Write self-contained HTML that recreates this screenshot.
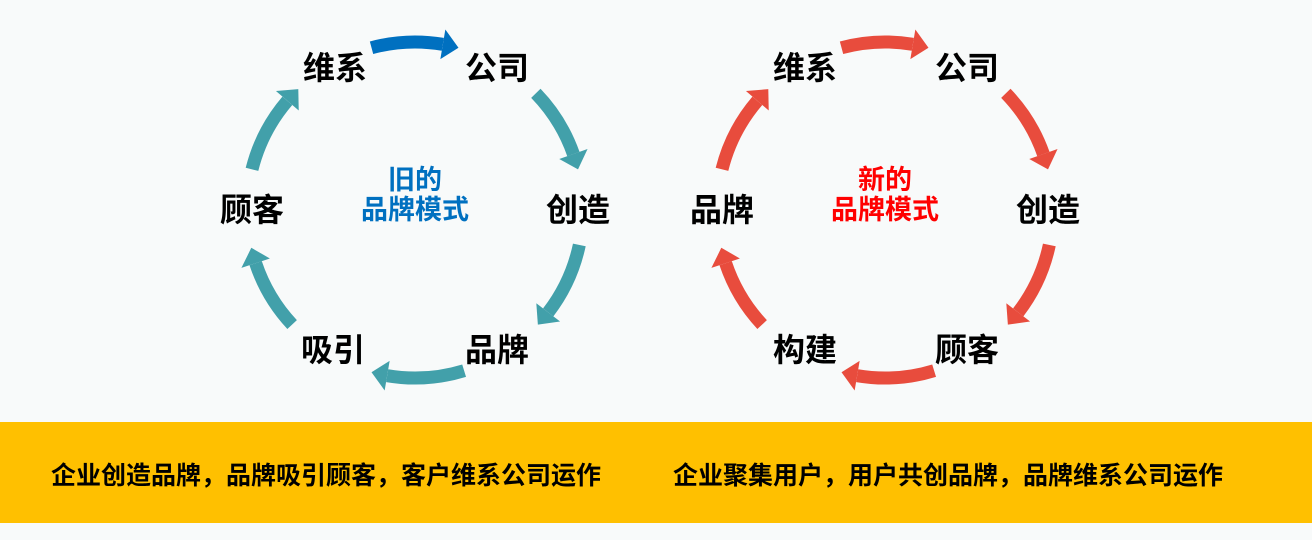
<!DOCTYPE html>
<html><head><meta charset="utf-8"><style>
html,body{margin:0;padding:0;}
body{width:1312px;height:540px;background:#f8fafa;position:relative;overflow:hidden;font-family:"Liberation Sans","Noto Sans CJK SC",sans-serif;}
.band{position:absolute;left:0;top:422px;width:1312px;height:101px;background:#ffc000;}
.bt{position:absolute;top:456px;font-size:25px;font-weight:bold;color:#000;white-space:nowrap;transform:translateX(-50%);}
svg{position:absolute;left:0;top:0;}
svg text{font-family:"Liberation Sans","Noto Sans CJK SC",sans-serif;font-weight:bold;text-anchor:middle;dominant-baseline:central;}
</style></head><body>
<div class="band"></div>
<div class="bt" style="left:326px">企业创造品牌，品牌吸引顾客，客户维系公司运作</div>
<div class="bt" style="left:948px">企业聚集用户，用户共创品牌，品牌维系公司运作</div>
<svg id="s" width="1312" height="540">
<g font-size="32" fill="#000">
<text x="335" y="68">维系</text><text x="497" y="68">公司</text>
<text x="578" y="210">创造</text><text x="252" y="210">顾客</text>
<text x="333" y="350">吸引</text><text x="497" y="350">品牌</text>
<text x="805" y="68">维系</text><text x="967" y="68">公司</text>
<text x="1048" y="210">创造</text><text x="722" y="210">品牌</text>
<text x="805" y="350">构建</text><text x="967" y="350">顾客</text>
</g>
<g font-size="27" fill="#0070c0"><text x="415" y="180">旧的</text><text x="415" y="210">品牌模式</text></g>
<g font-size="27" fill="#ff0000"><text x="885" y="180">新的</text><text x="885" y="210">品牌模式</text></g>
</svg>
<script>
var s=document.getElementById('s'),NS='http://www.w3.org/2000/svg';
function pt(cx,cy,r,a){a=a*Math.PI/180;return [cx+r*Math.sin(a),cy-r*Math.cos(a)];}
function arrow(cx,cy,a0,a1,col){
 var r=168,hl=16,ha=hl/r*180/Math.PI,ae=a1-ha;
 var p0=pt(cx,cy,r,a0),p1=pt(cx,cy,r,ae);
 var path=document.createElementNS(NS,'path');
 path.setAttribute('d','M'+p0+' A'+r+' '+r+' 0 0 1 '+p1);
 path.setAttribute('fill','none');path.setAttribute('stroke',col);path.setAttribute('stroke-width','13');
 s.insertBefore(path,s.firstChild);
 var tip=pt(cx,cy,r,a1),b1=pt(cx,cy,r-15,ae),b2=pt(cx,cy,r+15,ae);
 var pg=document.createElementNS(NS,'polygon');
 pg.setAttribute('points',tip+' '+b1+' '+b2);pg.setAttribute('fill',col);
 s.insertBefore(pg,s.firstChild);
}
var segs=[[-15,15],[46,76],[102,133],[163,195],[227,257],[284,316]];
var T='#42a0aa';
segs.forEach(function(g,i){arrow(415,210,g[0],g[1],i==0?'#0070c0':T);});
segs.forEach(function(g){arrow(885,210,g[0],g[1],'#e84c3d');});
</script>
</body></html>
